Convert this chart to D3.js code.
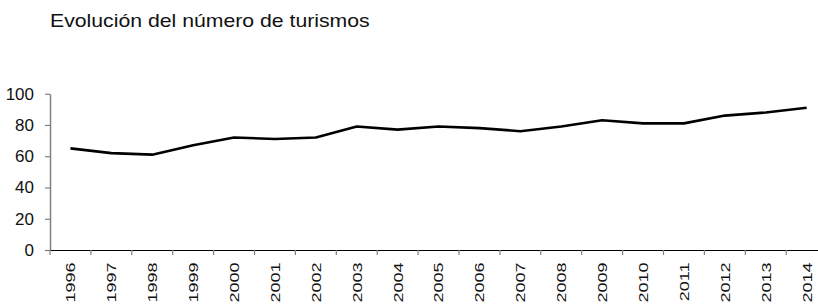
<!DOCTYPE html>
<html>
<head>
<meta charset="utf-8">
<script src="https://cdn.jsdelivr.net/npm/d3@7"></script>
<style>
	body { margin: 0; background: #fff; }
	svg { display: block; font-family: "Liberation Sans", Arial, sans-serif; }
</style>
</head>
<body>
<svg id="chart" width="818" height="304"></svg>
<script>
var years = ["1996", "1997", "1998", "1999", "2000", "2001", "2002", "2003", "2004", "2005",
	"2006", "2007", "2008", "2009", "2010", "2011", "2012", "2013", "2014"];
var values = [65, 62, 61, 67, 72, 71, 72, 79, 77, 79, 78, 76, 79, 83, 81, 81, 86, 88, 91];
var yTicks = [0, 20, 40, 60, 80, 100];
var title = "Evolución del número de turismos";

var svg = d3.select("#chart"),
	plotLeft = 50,
	step = 40.9,
	plotTop = 93.7,
	plotBottom = 250;

var x = d3.scaleBand()
	.domain(years)
	.range([plotLeft, plotLeft + step * years.length])
	.padding(0);
var y = d3.scaleLinear()
	.domain([0, 100])
	.range([plotBottom, plotTop]);

// title, slightly wide like the source image
svg.append("text")
	.attr("x", 50)
	.attr("y", 27.5)
	.attr("font-size", 18)
	.attr("fill", "#111")
	.attr("transform", "translate(50,0) scale(1.18,1) translate(-50,0)")
	.text(title);

// y axis
var gy = svg.append("g")
	.attr("transform", "translate(" + plotLeft + ",0)")
	.call(d3.axisLeft(y).tickValues(yTicks).tickSize(5).tickSizeOuter(0).tickPadding(11));
gy.select(".domain").attr("stroke", "#808080").attr("stroke-width", 1.5);
gy.selectAll(".tick line").attr("stroke", "#808080").attr("stroke-width", 1.2);
gy.selectAll(".tick text")
	.attr("font-size", 17)
	.attr("fill", "#111")
	.attr("font-family", "Liberation Sans, Arial, sans-serif");

// x axis
var gx = svg.append("g")
	.attr("transform", "translate(0," + plotBottom + ")")
	.call(d3.axisBottom(x).tickSize(0).tickSizeOuter(0));
gx.select(".domain").attr("stroke", "#000").attr("stroke-width", 1.2);
gx.selectAll(".tick text")
	.attr("font-size", 18)
	.attr("fill", "#111")
	.attr("font-family", "Liberation Sans, Arial, sans-serif")
	.attr("text-anchor", "end")
	.attr("transform", "rotate(-90) scale(1,0.75)")
	.attr("x", -12.5)
	.attr("y", 0)
	.attr("dy", "0.36em");

// boundary ticks between categories
gx.selectAll("line.sep")
	.data(years.map(function(d) { return x(d); }).concat([x.range()[1]]))
	.enter()
	.append("line")
	.attr("class", "sep")
	.attr("x1", function(d) { return d; })
	.attr("x2", function(d) { return d; })
	.attr("y1", 0)
	.attr("y2", 5)
	.attr("stroke", "#808080")
	.attr("stroke-width", 1.2);

var line = d3.line()
	.x(function(d, i) { return x(years[i]) + x.bandwidth() / 2; })
	.y(function(d) { return y(d); });

svg.append("path")
	.datum(values)
	.attr("fill", "none")
	.attr("stroke", "#000")
	.attr("stroke-width", 2.6)
	.attr("stroke-linejoin", "round")
	.attr("d", line);
</script>
</body>
</html>
